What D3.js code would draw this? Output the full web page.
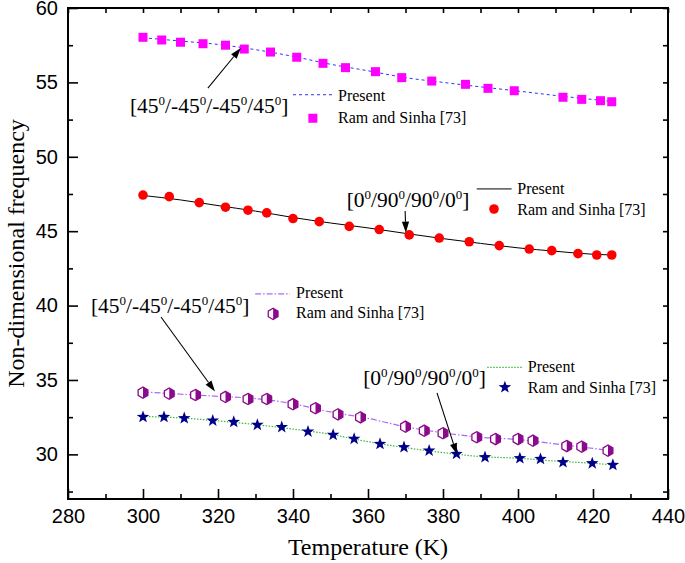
<!DOCTYPE html>
<html><head><meta charset="utf-8">
<script src="https://cdn.jsdelivr.net/npm/d3@7"></script>
<style>body{margin:0;background:#fff} svg{display:block}</style>
</head><body><svg id="c" width="685" height="563"></svg>
<script>
// ---------- DATA ----------
const xMajorTicks = [280, 300, 320, 340, 360, 380, 400, 420, 440];
const xMinorTicks = [290, 310, 330, 350, 370, 390, 410, 430];
const yMajorTicks = [30, 35, 40, 45, 50, 55, 60];
const yMinorTicks = [27.5, 32.5, 37.5, 42.5, 47.5, 52.5, 57.5];

// [45/-45/-45/45] upper (squares + blue dashed)
const sqTemp = [300, 305, 310, 316, 322, 327, 334, 341, 348, 354, 362, 369, 377, 386, 392, 399, 412, 417, 422, 425];
const sqVal  = [58.03, 57.85, 57.70, 57.60, 57.50, 57.24, 57.04, 56.69, 56.28, 55.99, 55.72, 55.32, 55.09, 54.87, 54.60, 54.44, 54.00, 53.86, 53.77, 53.70];
const sqLineTemp = [300, 310, 320, 330, 340, 350, 360, 370, 380, 390, 400, 410, 420, 425];
const sqLineVal  = [58.00, 57.78, 57.55, 57.20, 56.75, 56.22, 55.78, 55.32, 55.00, 54.70, 54.42, 54.12, 53.85, 53.72];

// [0/90/90/0] upper (circles + black solid)
const ciTemp = [300, 307, 315, 322, 328, 333, 340, 347, 355, 363, 371, 379, 387, 395, 403, 409, 416, 421, 425];
const ciVal  = [47.43, 47.32, 46.92, 46.61, 46.41, 46.23, 45.85, 45.64, 45.32, 45.11, 44.75, 44.54, 44.29, 44.03, 43.80, 43.69, 43.49, 43.40, 43.40];
const ciLineTemp = [300, 310, 320, 330, 340, 350, 360, 370, 380, 390, 400, 410, 420, 425];
const ciLineVal  = [47.40, 47.10, 46.72, 46.35, 45.92, 45.55, 45.22, 44.85, 44.50, 44.18, 43.88, 43.65, 43.45, 43.40];

// [45/-45/-45/45] lower (hexagons + purple dash-dot)
const hxTemp = [300, 307, 314, 322, 328, 333, 340, 346, 352, 358, 370, 375, 380, 389, 394, 400, 404, 413, 417, 424];
const hxVal  = [34.15, 34.08, 33.99, 33.86, 33.72, 33.72, 33.37, 33.10, 32.69, 32.49, 31.86, 31.59, 31.42, 31.15, 31.03, 31.03, 30.92, 30.56, 30.52, 30.25];
const hxLineTemp = [300, 310, 320, 330, 340, 350, 360, 370, 380, 390, 400, 410, 420, 425];
const hxLineVal  = [34.20, 34.05, 33.90, 33.75, 33.40, 32.85, 32.42, 31.85, 31.45, 31.15, 31.00, 30.70, 30.40, 30.25];

// [0/90/90/0] lower (stars + green dotted)
const stTemp = [300, 305.6, 311, 318.6, 324.2, 330.5, 337, 344, 350.7, 356.3, 363.2, 369.6, 376.3, 383.6, 391.2, 400.5, 406, 412, 419.8, 425.3];
const stVal  = [32.51, 32.51, 32.43, 32.27, 32.18, 31.98, 31.83, 31.53, 31.31, 31.04, 30.70, 30.48, 30.25, 30.03, 29.81, 29.74, 29.69, 29.47, 29.40, 29.29];
const stLineTemp = [300, 310, 320, 330, 340, 350, 360, 370, 380, 390, 400, 410, 420, 425];
const stLineVal  = [32.55, 32.45, 32.25, 32.00, 31.70, 31.35, 30.85, 30.45, 30.12, 29.85, 29.74, 29.55, 29.40, 29.30];

const labelA = ["[45","0","/-45","0","/-45","0","/45","0","]"];
const labelB = ["[0","0","/90","0","/90","0","/0","0","]"];
const presentText = "Present";
const refText = "Ram and Sinha [73]";
const xTitle = "Temperature (K)";
const yTitle = "Non-dimensional frequency";

// ---------- CHART ----------
const svg = d3.select("#c");
const L = 68, R = 668, T = 8, B = 499;
const x = d3.scaleLinear().domain([280, 440]).range([L, R]);
const y = d3.scaleLinear().domain([27, 60]).range([B, T]);
const serif = "'Liberation Serif', 'Times New Roman', serif";
const sans = "'Liberation Sans', Arial, sans-serif";

// axes
function styleAxis(g){ g.select(".domain").remove(); g.selectAll("line").attr("stroke","#000").attr("stroke-width",1.6);
  g.selectAll("text").attr("font-family", sans).attr("font-size", 20).attr("fill","#000"); }
svg.append("g").attr("transform",`translate(0,${B})`)
  .call(d3.axisBottom(x).tickValues(xMajorTicks).tickSize(-10).tickPadding(10).tickFormat(d3.format("d"))).call(styleAxis);
svg.append("g").attr("transform",`translate(0,${B})`)
  .call(d3.axisBottom(x).tickValues(xMinorTicks).tickSize(-5).tickFormat("")).call(styleAxis);
svg.append("g").attr("transform",`translate(${L},0)`)
  .call(d3.axisLeft(y).tickValues(yMajorTicks).tickSize(-10).tickPadding(10).tickFormat(d3.format("d"))).call(styleAxis);
svg.append("g").attr("transform",`translate(${L},0)`)
  .call(d3.axisLeft(y).tickValues(yMinorTicks).tickSize(-5).tickFormat("")).call(styleAxis);
svg.append("g").attr("transform",`translate(0,${T})`)
  .call(d3.axisTop(x).tickValues(xMajorTicks.concat(xMinorTicks)).tickSize(-5).tickFormat("")).call(styleAxis);
svg.append("g").attr("transform",`translate(${R},0)`)
  .call(d3.axisRight(y).tickValues(yMajorTicks.concat(yMinorTicks)).tickSize(-5).tickFormat("")).call(styleAxis);
svg.append("rect").attr("x",L).attr("y",T).attr("width",R-L).attr("height",B-T)
  .attr("fill","none").attr("stroke","#000").attr("stroke-width",2);

// titles
svg.append("text").attr("x",(L+R)/2).attr("y",555).attr("text-anchor","middle")
  .attr("font-family",serif).attr("font-size",24).text(xTitle);
svg.append("text").attr("transform",`translate(24,${(T+B)/2}) rotate(-90)`).attr("text-anchor","middle")
  .attr("font-family",serif).attr("font-size",24).text(yTitle);

// lines
const line = d3.line().x(d=>x(d[0])).y(d=>y(d[1])).curve(d3.curveMonotoneX);
const zip = (a,b)=>a.map((v,i)=>[v,b[i]]);
function drawLine(tt, vv, color, dash, w){
  svg.append("path").datum(zip(tt,vv)).attr("d",line).attr("fill","none")
    .attr("stroke",color).attr("stroke-width",w||1).attr("stroke-dasharray",dash);
}
const sqColor="#ff00ff", sqLine="#3030ff";
const ciColor="#ff0000", ciLine="#000000";
const hxColor="#8b0a8b", hxLine="#a66cf5";
const stColor="#00008b", stLine="#3cb83c";
drawLine(sqLineTemp, sqLineVal, sqLine, "3,3", 1);
drawLine(ciLineTemp, ciLineVal, ciLine, null, 1);
drawLine(hxLineTemp, hxLineVal, hxLine, "6,2,1.5,2", 1.2);
drawLine(stLineTemp, stLineVal, stLine, "1.5,1.5", 1.2);

// marker drawers
function square(g, cx, cy){ g.append("rect").attr("x",cx-4.5).attr("y",cy-4.5).attr("width",9).attr("height",9).attr("fill",sqColor); }
function circle(g, cx, cy){ g.append("circle").attr("cx",cx).attr("cy",cy).attr("r",4.8).attr("fill",ciColor); }
function hexagon(g, cx, cy){
  const r=5.6, w=r*0.87;
  const pts=[[0,-r],[w,-r/2],[w,r/2],[0,r],[-w,r/2],[-w,-r/2]];
  g.append("path").attr("d","M"+pts.map(p=>(cx+p[0])+","+(cy+p[1])).join("L")+"Z").attr("fill","#fff");
  const right=[[0,-r],[w,-r/2],[w,r/2],[0,r]];
  g.append("path").attr("d","M"+right.map(p=>(cx+p[0])+","+(cy+p[1])).join("L")+"Z").attr("fill",hxColor);
  g.append("path").attr("d","M"+pts.map(p=>(cx+p[0])+","+(cy+p[1])).join("L")+"Z").attr("fill","none").attr("stroke",hxColor).attr("stroke-width",1.3);
}
function star(g, cx, cy){
  const ro=6.6, ri=2.7, p=[];
  for(let i=0;i<10;i++){ const a=-Math.PI/2+i*Math.PI/5, r=i%2?ri:ro; p.push([cx+r*Math.cos(a), cy+r*Math.sin(a)]); }
  g.append("path").attr("d","M"+p.join("L")+"Z").attr("fill",stColor);
}
const gm = svg.append("g");
sqTemp.forEach((t,i)=>square(gm, x(t), y(sqVal[i])));
ciTemp.forEach((t,i)=>circle(gm, x(t), y(ciVal[i])));
hxTemp.forEach((t,i)=>hexagon(gm, x(t), y(hxVal[i])));
stTemp.forEach((t,i)=>star(gm, x(t), y(stVal[i])));

// annotations (positions in data units)
function label(parts, t, v){
  const tx = svg.append("text").attr("x",x(t)).attr("y",y(v)).attr("font-family",serif).attr("font-size",21.5);
  parts.forEach((p,i)=>{
    if(i%2===0) tx.append("tspan").attr("dy", i===0?0:8).text(p);
    else tx.append("tspan").attr("dy",-8).attr("font-size",13).text(p);
  });
}
function arrow(t1,v1,t2,v2){
  const x1=x(t1), y1=y(v1), x2=x(t2), y2=y(v2);
  const ang=Math.atan2(y2-y1,x2-x1), len=11, hw=3.6;
  const bx=x2-len*Math.cos(ang), by=y2-len*Math.sin(ang);
  svg.append("line").attr("x1",x1).attr("y1",y1).attr("x2",bx).attr("y2",by).attr("stroke","#000").attr("stroke-width",1.1);
  const px=-Math.sin(ang)*hw, py=Math.cos(ang)*hw;
  svg.append("path").attr("d",`M${x2},${y2}L${bx+px},${by+py}L${bx-px},${by-py}Z`).attr("fill","#000");
}
function legend(lineT1, lineT2, lineV, color, dash, w, textT, presV, mT, mV, refV, marker){
  svg.append("line").attr("x1",x(lineT1)).attr("x2",x(lineT2)).attr("y1",y(lineV)).attr("y2",y(lineV))
    .attr("stroke",color).attr("stroke-width",w).attr("stroke-dasharray",dash);
  svg.append("text").attr("x",x(textT)).attr("y",y(presV)).attr("font-family",serif).attr("font-size",16).text(presentText);
  marker(svg, x(mT), y(mV));
  svg.append("text").attr("x",x(textT)).attr("y",y(refV)).attr("font-family",serif).attr("font-size",16).text(refText);
}

label(labelA, 296.5, 52.94);
arrow(317.3, 54.62, 326.1, 57.31);
legend(340.0, 350.4, 54.17, sqLine, "3,3", 1, 352.0, 53.78, 345.3, 52.59, 52.25, square);

label(labelB, 354.3, 46.61);
arrow(369.9, 46.36, 370.1, 44.90);
legend(389.0, 398.3, 47.84, ciLine, null, 1, 399.8, 47.50, 393.6, 46.49, 46.09, circle);

label(labelA, 286.1, 39.48);
arrow(304.8, 39.23, 319.2, 34.23);
legend(329.9, 339.2, 40.78, hxLine, "6,2,1.5,2", 1.2, 340.8, 40.49, 334.7, 39.44, 39.15, hexagon);

label(labelB, 358.7, 34.66);
arrow(378.4, 34.13, 383.7, 30.0);
legend(391.8, 401.4, 35.85, stLine, "1.5,1.5", 1.2, 402.6, 35.56, 396.5, 34.51, 34.11, star);
</script></body></html>
